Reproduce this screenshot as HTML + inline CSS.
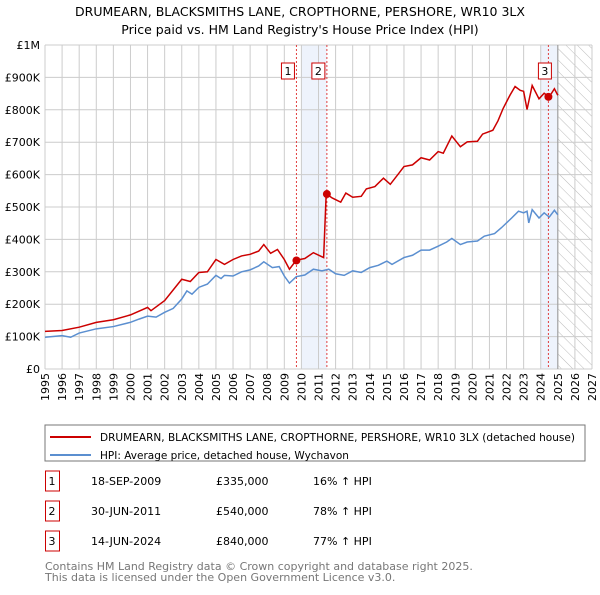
<!DOCTYPE html>
<html><head><meta charset="utf-8"><style>
body{margin:0;background:#fff;font-family:"Liberation Sans","DejaVu Sans",sans-serif;}
svg text{font-family:"DejaVu Sans","Liberation Sans",sans-serif;}
</style></head><body>
<svg id="c" width="600" height="590" xmlns="http://www.w3.org/2000/svg">
<defs><pattern id="hatch" width="8" height="8" patternUnits="userSpaceOnUse" patternTransform="rotate(-45)"><line x1="0" y1="0" x2="0" y2="8" stroke="#bbb" stroke-width="1"/></pattern></defs>
<text x="300" y="16" font-size="12.5" text-anchor="middle">DRUMEARN, BLACKSMITHS LANE, CROPTHORNE, PERSHORE, WR10 3LX</text>
<text x="300" y="34" font-size="12.5" text-anchor="middle">Price paid vs. HM Land Registry's House Price Index (HPI)</text>
<g id="plot"></g>
<rect x="45" y="425" width="540" height="36" fill="#fff" stroke="#777"/>
<line x1="50" y1="437" x2="91" y2="437" stroke="#cc0000" stroke-width="2"/>
<text x="100" y="441" font-size="10.5" textLength="475" lengthAdjust="spacingAndGlyphs">DRUMEARN, BLACKSMITHS LANE, CROPTHORNE, PERSHORE, WR10 3LX (detached house)</text>
<line x1="50" y1="455" x2="91" y2="455" stroke="#5b8fd0" stroke-width="2"/>
<text x="100" y="459" font-size="10.5">HPI: Average price, detached house, Wychavon</text>
<g id="tbl" font-size="11"></g>
<text x="45" y="570" font-size="11" fill="#777">Contains HM Land Registry data © Crown copyright and database right 2025.</text>
<text x="45" y="581" font-size="11" fill="#777">This data is licensed under the Open Government Licence v3.0.</text>
</svg>
<script>
const yTicks=[0,100000,200000,300000,400000,500000,600000,700000,800000,900000,1000000];
const yTickLabels=["£0","£100K","£200K","£300K","£400K","£500K","£600K","£700K","£800K","£900K","£1M"];
const years=[1995,1996,1997,1998,1999,2000,2001,2002,2003,2004,2005,2006,2007,2008,2009,2010,2011,2012,2013,2014,2015,2016,2017,2018,2019,2020,2021,2022,2023,2024,2025,2026,2027];
const hpiT=[1995,1996,1996.5,1997,1998,1999,2000,2000.5,2001,2001.5,2002,2002.5,2003,2003.3,2003.6,2004,2004.5,2005,2005.3,2005.5,2006,2006.5,2007,2007.5,2007.8,2008.3,2008.7,2009,2009.3,2009.7,2010.2,2010.7,2011.2,2011.6,2012,2012.5,2013,2013.5,2014,2014.5,2015,2015.3,2016,2016.5,2017,2017.5,2018,2018.5,2018.8,2019.3,2019.7,2020.3,2020.7,2021.3,2021.7,2022,2022.3,2022.7,2023,2023.2,2023.3,2023.5,2023.9,2024.2,2024.5,2024.8,2025];
const hpiV=[98,103,98,111,124,131,144,154,163,160,175,187,216,241,231,252,262,289,279,289,287,300,306,318,331,313,316,287,265,285,290,308,303,308,294,289,303,298,313,320,333,323,344,351,367,367,379,392,403,384,392,395,410,418,436,451,466,487,482,487,451,492,466,482,469,490,476];
const redT=[1995,1996,1997,1998,1999,2000,2001,2001.2,2002,2003,2003.5,2004,2004.5,2005,2005.5,2006,2006.5,2007,2007.5,2007.8,2008.2,2008.6,2009,2009.3,2009.7,2010.2,2010.7,2011.3,2011.45,2011.8,2012.3,2012.6,2013,2013.5,2013.8,2014.3,2014.8,2015.2,2015.7,2016,2016.5,2017,2017.5,2018,2018.3,2018.8,2019.3,2019.7,2020.3,2020.6,2021.2,2021.5,2021.8,2022.2,2022.5,2022.8,2023,2023.2,2023.5,2023.9,2024.2,2024.5,2024.8,2025];
const redV=[116,119,129,144,152,167,190,180,211,277,270,298,300,338,323,338,349,354,364,384,357,369,338,308,336,341,359,344,541,528,515,543,530,533,556,563,589,570,604,625,630,652,645,671,666,719,686,701,703,725,737,766,804,845,872,860,857,801,875,834,851,840,865,845];
const saleLabels=["1","2","3"];
const saleT=[2009.71,2011.49,2024.45];
const saleV=[335,540,840];
const saleDates=["18-SEP-2009","30-JUN-2011","14-JUN-2024"];
const salePrices=["£335,000","£540,000","£840,000"];
const salePct=["16% ↑ HPI","78% ↑ HPI","77% ↑ HPI"];

const NS="http://www.w3.org/2000/svg";
const X0=45,X1=592,Y0=369,Y1=45;
const xs=t=>X0+(t-1995)/32*(X1-X0);
const ys=v=>Y0-v/1000000*(Y0-Y1);
const ysK=v=>ys(v*1000);
const plot=document.getElementById('plot');
function mk(tag,attrs,parent){const e=document.createElementNS(NS,tag);for(const k in attrs)e.setAttribute(k,attrs[k]);(parent||plot).appendChild(e);return e;}
let b=mk('rect',{x:xs(2010),y:Y1,width:xs(saleT[1])-xs(2010),height:Y0-Y1,fill:'#eef3fc'});


b=mk('rect',{x:xs(2024),y:Y1,width:xs(2025)-xs(2024),height:Y0-Y1,fill:'#eef3fc'});


b=mk('rect',{x:xs(2025),y:Y1,width:X1-xs(2025),height:Y0-Y1,fill:'url(#hatch)'});


years.forEach(y=>{const l=mk('line',{x1:xs(y),x2:xs(y),y1:Y1,y2:Y0,stroke:'#ccc','stroke-width':1});


const t=mk('text',{x:0,y:0,'font-size':11,transform:`translate(${xs(y)+4},${Y0+4}) rotate(-90)`,'text-anchor':'end'});
t.textContent=y;

});
yTicks.forEach((v,i)=>{const l=mk('line',{x1:X0,x2:X1,y1:ys(v),y2:ys(v),stroke:'#ccc','stroke-width':1});


const t=mk('text',{x:X0-5,y:ys(v)+4,'font-size':11,'text-anchor':'end'});
t.textContent=yTickLabels[i];

});
let v=mk('line',{x1:xs(2025),x2:xs(2025),y1:Y1,y2:Y0,stroke:'#999','stroke-width':1});


saleT.forEach((t,i)=>{const l=mk('line',{x1:xs(t),x2:xs(t),y1:Y1,y2:Y0,stroke:'#e04040','stroke-width':1,'stroke-dasharray':'2,2'});


const bx=xs(t)-(i==2?9:14);
const r=mk('rect',{x:bx-1,y:63,width:13,height:16,fill:'#fff',stroke:'#cc0000'});


const tx=mk('text',{x:bx+5.5,y:75,'font-size':11,'text-anchor':'middle'});
tx.textContent=saleLabels[i];

});
const hp=mk('polyline',{points:hpiT.map((t,i)=>xs(t)+','+ysK(hpiV[i])).join(' '),fill:'none',stroke:'#5b8fd0','stroke-width':1.5});


const rp=mk('polyline',{points:redT.map((t,i)=>xs(t)+','+ysK(redV[i])).join(' '),fill:'none',stroke:'#cc0000','stroke-width':1.5});


saleT.forEach((t,i)=>{const c=mk('circle',{cx:xs(t),cy:ysK(saleV[i]),r:4,fill:'#cc0000'});

});
const tbl=document.getElementById('tbl');
saleLabels.forEach((s,i)=>{const y=483+i*30;
const r=mk('rect',{x:45.5,y:y-12,width:14,height:20,fill:'#fff',stroke:'#cc0000'},tbl);


[[52,s,'middle'],[91,saleDates[i],'start'],[216,salePrices[i],'start'],[313,salePct[i],'start']].forEach(([x,txt,a])=>{
const t=mk('text',{x:x,y:y+2,'text-anchor':a},tbl);
t.textContent=txt;

});});
</script>
</body></html>
